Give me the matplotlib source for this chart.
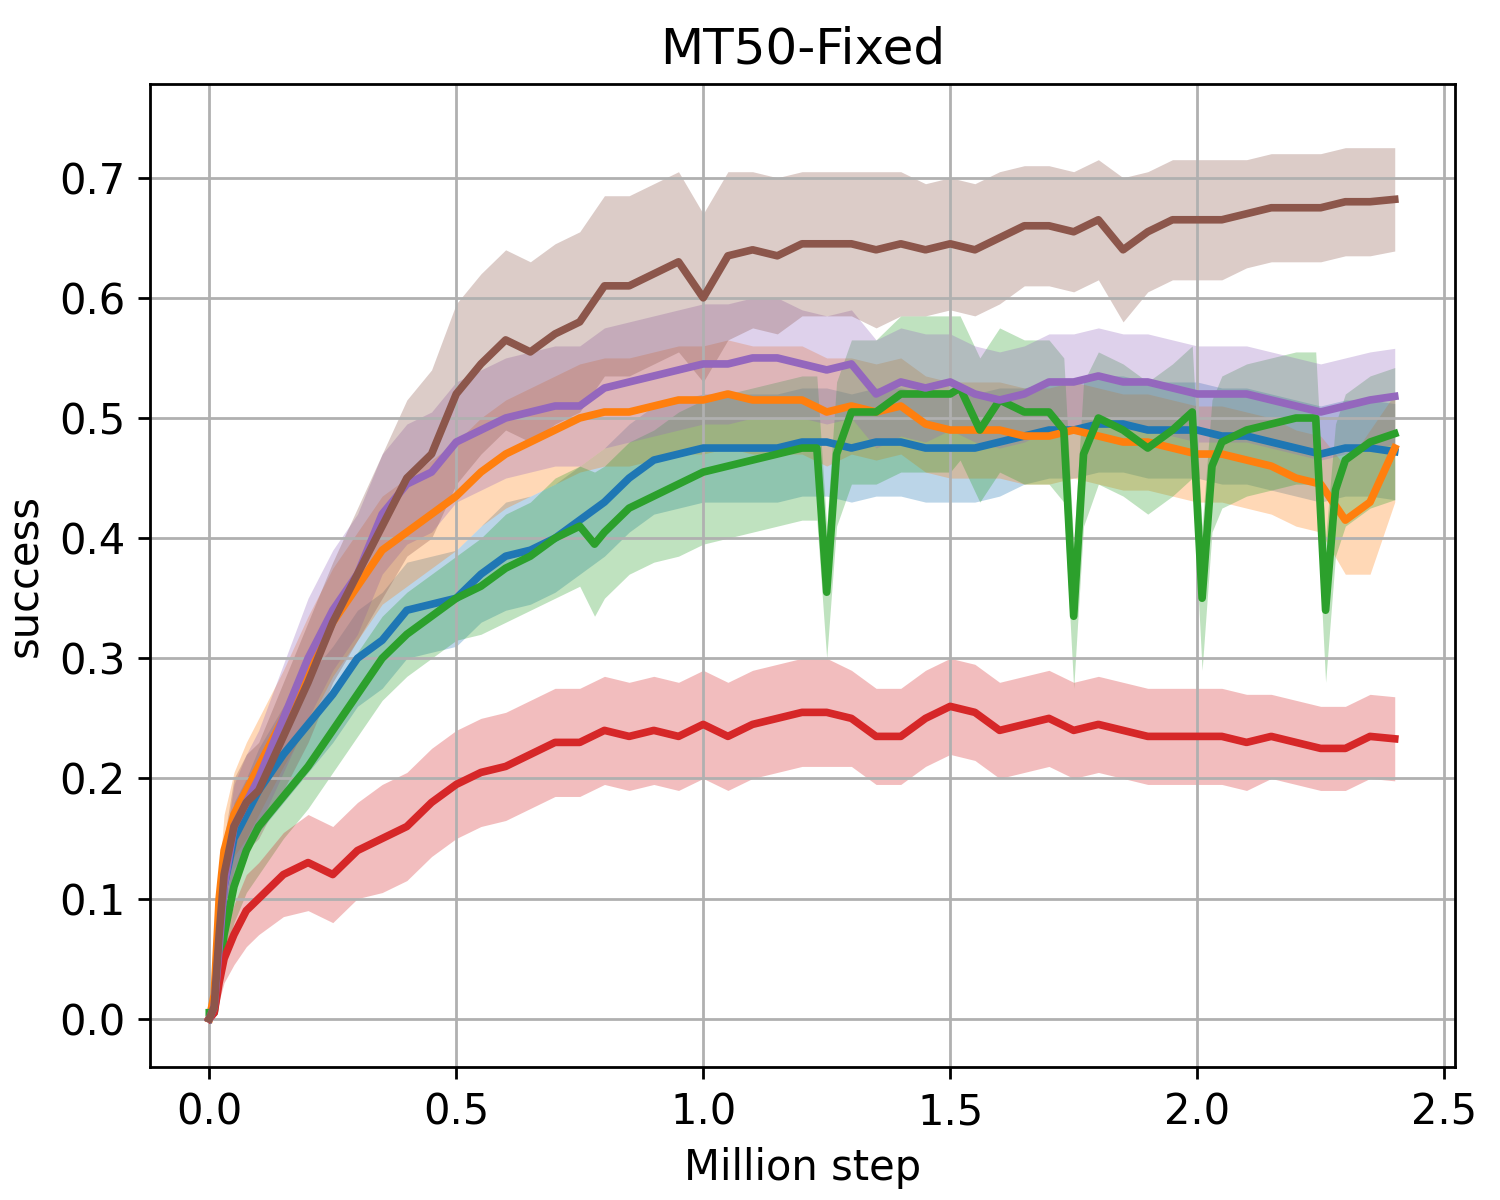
import matplotlib
matplotlib.use('Agg')
import matplotlib.pyplot as plt
import numpy as np

plt.rcParams['font.size'] = 12

# sample positions (million steps)
x = [0.0, 0.01, 0.02, 0.03, 0.05, 0.075, 0.1,
     0.15, 0.2, 0.25, 0.3, 0.35, 0.4, 0.45, 0.5, 0.55, 0.6,
     0.65, 0.7, 0.75, 0.8, 0.85, 0.9, 0.95, 1.0, 1.05, 1.1,
     1.15, 1.2, 1.25, 1.3, 1.35, 1.4, 1.45, 1.5, 1.55, 1.6,
     1.65, 1.7, 1.75, 1.8, 1.85, 1.9, 1.95, 2.0, 2.05, 2.1,
     2.15, 2.2, 2.25, 2.3, 2.35, 2.4]

blue_mean = [0.0, 0.01, 0.06, 0.11, 0.15, 0.17, 0.19,
             0.22, 0.245, 0.27, 0.30, 0.315, 0.34, 0.345, 0.35, 0.37, 0.385,
             0.39, 0.40, 0.415, 0.43, 0.45, 0.465, 0.47, 0.475, 0.475, 0.475,
             0.475, 0.48, 0.48, 0.475, 0.48, 0.48, 0.475, 0.475, 0.475, 0.48,
             0.485, 0.49, 0.49, 0.495, 0.495, 0.49, 0.49, 0.49, 0.485, 0.485,
             0.48, 0.475, 0.47, 0.475, 0.475, 0.472]
blue_std = [0.0, 0.005, 0.02, 0.025, 0.03, 0.03, 0.035,
            0.04, 0.04, 0.04, 0.04, 0.04, 0.04, 0.04, 0.04, 0.04, 0.045,
            0.045, 0.045, 0.045, 0.045, 0.045, 0.045, 0.045, 0.045, 0.045, 0.045,
            0.045, 0.045, 0.045, 0.045, 0.045, 0.045, 0.045, 0.045, 0.045, 0.045,
            0.04, 0.04, 0.04, 0.04, 0.04, 0.04, 0.04, 0.04, 0.04, 0.04,
            0.04, 0.04, 0.04, 0.04, 0.04, 0.04]

orange_mean = [0.0, 0.02, 0.10, 0.14, 0.17, 0.19, 0.21,
               0.25, 0.29, 0.33, 0.36, 0.39, 0.405, 0.42, 0.435, 0.455, 0.47,
               0.48, 0.49, 0.50, 0.505, 0.505, 0.51, 0.515, 0.515, 0.52, 0.515,
               0.515, 0.515, 0.505, 0.51, 0.505, 0.51, 0.495, 0.49, 0.49, 0.49,
               0.485, 0.485, 0.49, 0.485, 0.48, 0.48, 0.475, 0.47, 0.47, 0.465,
               0.46, 0.45, 0.445, 0.415, 0.43, 0.475]
orange_std = [0.0, 0.005, 0.02, 0.03, 0.035, 0.04, 0.04,
              0.04, 0.045, 0.045, 0.045, 0.045, 0.045, 0.045, 0.045, 0.045, 0.045,
              0.045, 0.045, 0.045, 0.045, 0.045, 0.045, 0.045, 0.045, 0.045, 0.045,
              0.045, 0.045, 0.045, 0.04, 0.04, 0.04, 0.04, 0.04, 0.04, 0.04,
              0.04, 0.04, 0.04, 0.04, 0.04, 0.04, 0.04, 0.04, 0.04, 0.04,
              0.04, 0.04, 0.04, 0.045, 0.06, 0.045]

# green has its own samples because of the sharp drops
x_green = [0.0, 0.01, 0.03, 0.05, 0.075, 0.1,
           0.15, 0.2, 0.25, 0.3, 0.35, 0.4, 0.45, 0.5, 0.55, 0.6, 0.65, 0.7, 0.75,
           0.78,
           0.8, 0.85, 0.9, 0.95, 1.0, 1.05, 1.1, 1.15, 1.2,
           1.23, 1.25, 1.27,
           1.3, 1.35, 1.4, 1.45, 1.5,
           1.52, 1.56,
           1.6, 1.65, 1.7,
           1.73, 1.75, 1.77,
           1.8, 1.85, 1.9, 1.95,
           1.99, 2.01, 2.03,
           2.05, 2.1, 2.15, 2.2,
           2.24, 2.26, 2.28,
           2.3, 2.35, 2.4]
green_mean = [0.005, 0.005, 0.07, 0.11, 0.14, 0.16,
              0.185, 0.21, 0.24, 0.27, 0.30, 0.32, 0.335, 0.35, 0.36, 0.375, 0.385, 0.40, 0.41,
              0.395,
              0.405, 0.425, 0.435, 0.445, 0.455, 0.46, 0.465, 0.47, 0.475,
              0.475, 0.355, 0.47,
              0.505, 0.505, 0.52, 0.52, 0.52,
              0.525, 0.49,
              0.515, 0.505, 0.505,
              0.49, 0.335, 0.47,
              0.50, 0.49, 0.475, 0.49,
              0.505, 0.35, 0.46,
              0.48, 0.49, 0.495, 0.50,
              0.50, 0.34, 0.44,
              0.465, 0.48, 0.487]
green_std = [0.0, 0.005, 0.02, 0.03, 0.035, 0.04,
             0.035, 0.035, 0.035, 0.035, 0.035, 0.035, 0.035, 0.035, 0.04, 0.045, 0.045, 0.05, 0.05,
             0.06,
             0.055, 0.055, 0.055, 0.06, 0.06, 0.06, 0.06, 0.06, 0.06,
             0.06, 0.055, 0.06,
             0.06, 0.06, 0.065, 0.065, 0.065,
             0.06, 0.06,
             0.06, 0.06, 0.06,
             0.06, 0.06, 0.06,
             0.055, 0.055, 0.055, 0.055,
             0.055, 0.06, 0.055,
             0.055, 0.055, 0.055, 0.055,
             0.055, 0.06, 0.055,
             0.055, 0.055, 0.055]

red_mean = [0.0, 0.005, 0.03, 0.05, 0.07, 0.09, 0.10,
            0.12, 0.13, 0.12, 0.14, 0.15, 0.16, 0.18, 0.195, 0.205, 0.21,
            0.22, 0.23, 0.23, 0.24, 0.235, 0.24, 0.235, 0.245, 0.235, 0.245,
            0.25, 0.255, 0.255, 0.25, 0.235, 0.235, 0.25, 0.26, 0.255, 0.24,
            0.245, 0.25, 0.24, 0.245, 0.24, 0.235, 0.235, 0.235, 0.235, 0.23,
            0.235, 0.23, 0.225, 0.225, 0.235, 0.233]
red_std = [0.0, 0.005, 0.015, 0.02, 0.025, 0.03, 0.03,
           0.035, 0.04, 0.04, 0.04, 0.045, 0.045, 0.045, 0.045, 0.045, 0.045,
           0.045, 0.045, 0.045, 0.045, 0.045, 0.045, 0.045, 0.045, 0.045, 0.045,
           0.045, 0.045, 0.045, 0.04, 0.04, 0.04, 0.04, 0.04, 0.04, 0.04,
           0.04, 0.04, 0.04, 0.04, 0.04, 0.04, 0.04, 0.04, 0.04, 0.04,
           0.035, 0.035, 0.035, 0.035, 0.035, 0.035]

purple_mean = [0.0, 0.01, 0.06, 0.11, 0.16, 0.18, 0.20,
               0.25, 0.30, 0.34, 0.37, 0.42, 0.445, 0.455, 0.48, 0.49, 0.50,
               0.505, 0.51, 0.51, 0.525, 0.53, 0.535, 0.54, 0.545, 0.545, 0.55,
               0.55, 0.545, 0.54, 0.545, 0.52, 0.53, 0.525, 0.53, 0.52, 0.515,
               0.52, 0.53, 0.53, 0.535, 0.53, 0.53, 0.525, 0.52, 0.52, 0.52,
               0.515, 0.51, 0.505, 0.51, 0.515, 0.518]
purple_std = [0.0, 0.005, 0.02, 0.03, 0.035, 0.04, 0.04,
              0.045, 0.05, 0.05, 0.05, 0.05, 0.05, 0.05, 0.05, 0.05, 0.05,
              0.05, 0.05, 0.05, 0.05, 0.05, 0.05, 0.05, 0.05, 0.05, 0.05,
              0.05, 0.045, 0.045, 0.045, 0.045, 0.045, 0.045, 0.04, 0.04, 0.04,
              0.04, 0.04, 0.04, 0.04, 0.04, 0.04, 0.04, 0.04, 0.04, 0.04,
              0.04, 0.04, 0.04, 0.04, 0.04, 0.04]

brown_mean = [0.0, 0.01, 0.07, 0.12, 0.16, 0.18, 0.19,
              0.235, 0.28, 0.33, 0.37, 0.41, 0.45, 0.47, 0.52, 0.545, 0.565,
              0.555, 0.57, 0.58, 0.61, 0.61, 0.62, 0.63, 0.60, 0.635, 0.64,
              0.635, 0.645, 0.645, 0.645, 0.64, 0.645, 0.64, 0.645, 0.64, 0.65,
              0.66, 0.66, 0.655, 0.665, 0.64, 0.655, 0.665, 0.665, 0.665, 0.67,
              0.675, 0.675, 0.675, 0.68, 0.68, 0.682]
brown_std = [0.0, 0.005, 0.02, 0.03, 0.04, 0.04, 0.04,
             0.045, 0.05, 0.05, 0.055, 0.06, 0.065, 0.07, 0.075, 0.075, 0.075,
             0.075, 0.075, 0.075, 0.075, 0.075, 0.075, 0.075, 0.07, 0.07, 0.065,
             0.065, 0.06, 0.06, 0.06, 0.065, 0.06, 0.055, 0.055, 0.055, 0.055,
             0.05, 0.05, 0.05, 0.05, 0.06, 0.05, 0.05, 0.05, 0.05, 0.045,
             0.045, 0.045, 0.045, 0.045, 0.045, 0.043]

runs = [
    (x, blue_mean, blue_std, 'tab:blue'),
    (x, orange_mean, orange_std, 'tab:orange'),
    (x_green, green_mean, green_std, 'tab:green'),
    (x, red_mean, red_std, 'tab:red'),
    (x, purple_mean, purple_std, 'tab:purple'),
    (x, brown_mean, brown_std, 'tab:brown'),
]

fig, ax = plt.subplots(figsize=(6, 4.8), dpi=250)
fig.subplots_adjust(left=0.1, right=0.97, top=0.93, bottom=0.111)

for xs, m, s, c in runs:
    xs = np.array(xs)
    m = np.array(m)
    s = np.array(s)
    ax.plot(xs, m, color=c, linewidth=2.2)
    ax.fill_between(xs, m - s, m + s, color=c, alpha=0.3, linewidth=0)

ax.set_xlim(-0.12, 2.522)
ax.set_ylim(-0.04, 0.778)
ax.grid(True, color='#b0b0b0', linewidth=0.8)
ax.set_xlabel('Million step')
ax.set_ylabel('success')
ax.set_title('MT50-Fixed')

fig.savefig('out.png')
